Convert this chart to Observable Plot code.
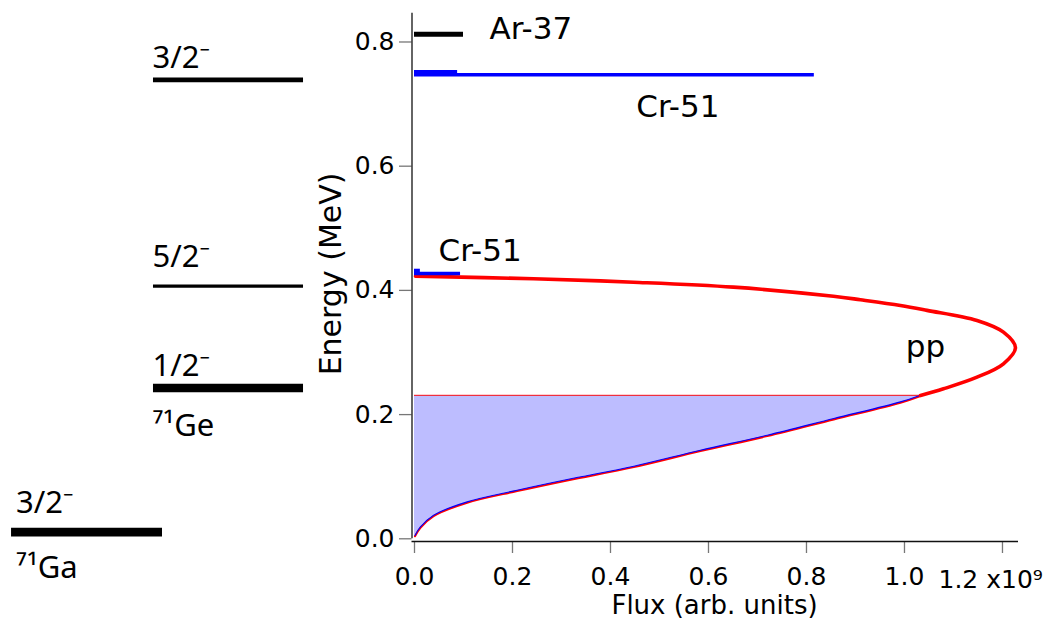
<!DOCTYPE html>
<html>
<head>
<meta charset="utf-8">
<script src="https://cdn.jsdelivr.net/npm/d3@7"></script>
<script src="https://cdn.jsdelivr.net/npm/@observablehq/plot@0.6"></script>
<style>
  html, body { margin: 0; padding: 0; background: #fff; }
  #chart svg { display: block; }
</style>
</head>
<body>
<div id="chart"></div>
<script>
// Flux in units of 10^9 (arb. units); energy in MeV.

// pp neutrino spectrum, read along energy
const ppEnergy = [0.005, 0.0187, 0.0375, 0.059, 0.0778, 0.095, 0.1164, 0.1422, 0.1663, 0.1932, 0.22, 0.2308,
                  0.2415, 0.2602, 0.2818, 0.3076, 0.3327, 0.3515, 0.3678, 0.3757, 0.3849, 0.3905, 0.4052, 0.4132, 0.4187, 0.4229];
const ppFlux   = [0.001, 0.012, 0.039, 0.1075, 0.2096, 0.3116, 0.4476, 0.5837, 0.7198, 0.8557, 0.9918, 1.0327,
                  1.0796, 1.148, 1.202, 1.2265, 1.202, 1.148, 1.046, 0.9918, 0.910, 0.855, 0.651, 0.447, 0.243, 0.002];

// 71Ga capture threshold
const thresholdEnergy = 0.2308;
const thresholdFlux = 1.0327;

// mono-energetic source lines
const arEnergy = [0.8124];
const arFlux = [0.1];
const crEnergy = [0.7472, 0.752, 0.4272, 0.432];
const crFlux = [0.816, 0.088, 0.094, 0.012];

// nuclear levels
const levelSpin = ["3/2⁻", "5/2⁻", "1/2⁻", "3/2⁻"];
const levelNuclide = ["⁷¹Ge", "⁷¹Ge", "⁷¹Ge", "⁷¹Ga"];
const levelEnergy = [0.7391, 0.4068, 0.2428, 0.0106];
const nuclideNames = ["⁷¹Ge", "⁷¹Ga"];
const nuclideGround = [0.2428, 0.0106];

// axis ticks
const xTicks = [0, 0.2, 0.4, 0.6, 0.8, 1.0, 1.2];
const yTicks = [0, 0.2, 0.4, 0.6, 0.8];
const xExponentLabel = "1.2 x10⁹";

// ---------- build tables ----------
const pp = ppEnergy.map((e, i) => ({energy: e, flux: ppFlux[i]}));
const ppBelow = pp.filter(d => d.energy <= thresholdEnergy);
const ppAbove = pp.filter(d => d.energy >= thresholdEnergy);
const ar = arEnergy.map((e, i) => ({energy: e, flux: arFlux[i]}));
const cr = crEnergy.map((e, i) => ({energy: e, flux: crFlux[i]}));

// layout: horizontal placement of the level-scheme columns (in x-scale units, left of the axis)
const column = {"⁷¹Ge": [-0.5327, -0.2265], "⁷¹Ga": [-0.8224, -0.5143]};
const levelWidth = [4.7, 3.3, 8.3, 8.7];
const spinDy = [-11.7, -18.7, -12.5, -19.2];
const nuclideDy = [47.5, 45.3];
const columnDx = {"⁷¹Ge": -1, "⁷¹Ga": 4.5};

const levels = levelEnergy.map((e, i) => ({
  energy: e, spin: levelSpin[i], nuclide: levelNuclide[i],
  x1: column[levelNuclide[i]][0], x2: column[levelNuclide[i]][1], w: levelWidth[i]
}));
const nuclides = nuclideNames.map((n, i) => ({name: n, energy: nuclideGround[i], x1: column[n][0]}));

const xMax = 1.2327, yMax = 0.8507;
const sans = "'DejaVu Sans', Verdana, sans-serif";
const levelFont = "'Noto Sans', 'DejaVu Sans', sans-serif";

const marks = [
  // shaded region below threshold
  Plot.areaX(ppBelow, {x: "flux", y: "energy", fill: "#bdbdff", curve: "catmull-rom"}),
  Plot.ruleY([thresholdEnergy], {x1: 0, x2: thresholdFlux, stroke: "#ff0000", strokeWidth: 1.2, strokeOpacity: 0.75}),
  // pp spectrum
  Plot.line(ppBelow, {x: "flux", y: "energy", stroke: "red", strokeWidth: 2, dy: 0.6, curve: "catmull-rom"}),
  Plot.line(ppBelow, {x: "flux", y: "energy", stroke: "blue", strokeWidth: 1.1, dy: -0.3, curve: "catmull-rom"}),
  Plot.line(ppAbove, {x: "flux", y: "energy", stroke: "red", strokeWidth: 3.6, curve: "catmull-rom"}),
  // source lines
  Plot.ruleY(ar, {y: "energy", x1: 0, x2: "flux", stroke: "black", strokeWidth: 5}),
  Plot.ruleY(cr, {y: "energy", x1: 0, x2: "flux", stroke: "blue", strokeWidth: 3.6}),
  // level scheme
  Plot.ruleY(levels, {y: "energy", x1: "x1", x2: "x2", stroke: "black", strokeWidth: "w"}),
  ...levels.map((d, i) => Plot.text([d], {
    x: "x1", y: "energy", text: "spin", textAnchor: "start", lineAnchor: "bottom",
    dx: columnDx[d.nuclide], dy: spinDy[i], fontFamily: levelFont, fontSize: 31, fill: "black"
  })),
  ...nuclides.map((d, i) => Plot.text([d], {
    x: "x1", y: "energy", text: "name", textAnchor: "start", lineAnchor: "bottom",
    dx: columnDx[d.name], dy: nuclideDy[i], fontFamily: levelFont, fontSize: 31, fill: "black"
  })),
  // annotations
  Plot.text(ar, {x: "flux", y: "energy", text: () => "Ar-37", textAnchor: "start", lineAnchor: "bottom",
    dx: 26, dy: 4.5, fontSize: 31, fontFamily: sans}),
  Plot.text([cr[0]], {x: "flux", y: "energy", text: () => "Cr-51", textAnchor: "start", lineAnchor: "bottom",
    dx: -178, dy: 42.4, fontSize: 31, fontFamily: sans}),
  Plot.text([cr[2]], {x: "flux", y: "energy", text: () => "Cr-51", textAnchor: "start", lineAnchor: "bottom",
    dx: -22, dy: -13, fontSize: 31, fontFamily: sans}),
  Plot.text(pp.filter(d => d.flux === d3.max(ppFlux)), {x: "flux", y: "energy", text: () => "pp",
    textAnchor: "middle", lineAnchor: "bottom", dx: -90, dy: 9.4, fontSize: 31, fontFamily: sans}),
  // axes
  Plot.axisY({ticks: yTicks, tickSize: 12.5, tickPadding: 5, dx: -2.5, stroke: "#777", strokeWidth: 1.3,
    tickFormat: d => d.toFixed(1), label: null}),
  Plot.axisX({ticks: xTicks, tickSize: 12, tickPadding: 14.2, dy: 2.7, stroke: "#777", strokeWidth: 1.3,
    tickFormat: d => (d > 1.1 ? "" : d.toFixed(1)), label: null}),
  Plot.ruleX([0], {y1: 0, y2: yMax, dx: -2.5, insetBottom: -2.7, stroke: "#111", strokeWidth: 1.3}),
  Plot.ruleY([0], {x1: 0, x2: xMax, dy: 2.7, insetLeft: -2.5, stroke: "#111", strokeWidth: 1.3}),
  Plot.text([xTicks[xTicks.length - 1]], {x: d => d, frameAnchor: "bottom", text: () => xExponentLabel,
    textAnchor: "start", lineAnchor: "bottom", dx: -64, dy: 48.7, fontSize: 25, fontFamily: sans}),
  Plot.text(["Flux (arb. units)"], {frameAnchor: "bottom", textAnchor: "middle", lineAnchor: "bottom",
    dx: -2, dy: 75, fontSize: 26, fontFamily: sans, letterSpacing: "0.8px"}),
  Plot.text(["Energy (MeV)"], {frameAnchor: "left", rotate: -90, textAnchor: "middle", lineAnchor: "bottom",
    dx: -74, dy: -0.7, fontSize: 30, fontFamily: sans})
];

const chart = Plot.plot({
  width: 1061,
  height: 624,
  marginLeft: 414,
  marginRight: 43,
  marginTop: 10,
  marginBottom: 85.7,
  x: {domain: [0, xMax], label: null},
  y: {domain: [0, yMax], label: null},
  style: {fontFamily: sans, fontSize: "25px", background: "#fff", color: "black", overflow: "visible"},
  marks
});
document.getElementById("chart").appendChild(chart);
</script>
</body>
</html>
